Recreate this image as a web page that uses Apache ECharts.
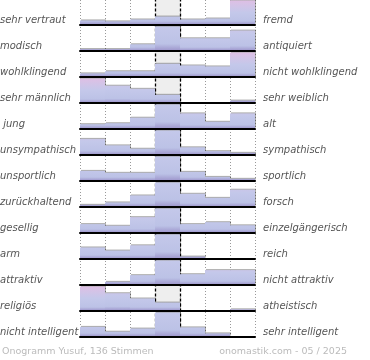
<!DOCTYPE html>
<html>
<head>
<meta charset="utf-8">
<script src="https://cdn.jsdelivr.net/npm/echarts@6/dist/echarts.min.js"></script>
<style>html,body{margin:0;padding:0;background:#fff;}#c{width:370px;height:360px;}</style>
</head>
<body>
<div id="c"></div>
<script>
const leftLabels = ['sehr vertraut','modisch','wohlklingend','sehr männlich',' jung','unsympathisch','unsportlich','zurückhaltend','gesellig','arm','attraktiv','religiös','nicht intelligent'];
const rightLabels = ['fremd','antiquiert','nicht wohlklingend','sehr weiblich','alt','sympathisch','sportlich','forsch','einzelgängerisch','reich','nicht attraktiv','atheistisch','sehr intelligent'];
const scaleSteps = ['1','2','3','4','5','6','7'];
// relative bar heights per row (percent of the row's highest bar)
const row01 = [17, 13, 21, 33, 21, 25, 100];
const row02 = [6, 6, 26, 100, 51, 51, 83];
const row03 = [13, 22, 22, 53, 46, 42, 100];
const row04 = [100, 70, 57, 32, 0, 0, 8];
const row05 = [18, 22, 45, 100, 63, 28, 63];
const row06 = [65, 38, 24, 100, 30, 14, 7];
const row07 = [40, 32, 32, 100, 36, 15, 7];
const row08 = [7, 17, 46, 100, 53, 36, 70];
const row09 = [35, 28, 64, 100, 35, 43, 30];
const row10 = [46, 33, 55, 100, 8, 0, 0];
const row11 = [0, 11, 39, 100, 43, 60, 60];
const row12 = [100, 72, 50, 33, 0, 0, 5];
const row13 = [40, 20, 33, 100, 38, 13, 0];
const footerLeft = 'Onogramm Yusuf, 136 Stimmen';
const footerRight = 'onomastik.com - 05 / 2025';

const rows = [row01,row02,row03,row04,row05,row06,row07,row08,row09,row10,row11,row12,row13];

// row-relative gradient stops
const gStops = [
  [0, [222,190,228]],
  [0.12, [216,194,230]],
  [0.5, [196,200,234]],
  [0.86, [188,194,230]],
  [1, [158,150,204]]
];
function sample(g){
  for(let i=1;i<gStops.length;i++){
    if(g<=gStops[i][0]){
      const a=gStops[i-1], b=gStops[i];
      const t=(g-a[0])/(b[0]-a[0]);
      const c=a[1].map((v,k)=>Math.round(v+(b[1][k]-v)*t));
      return 'rgb('+c.join(',')+')';
    }
  }
  return 'rgb('+gStops[gStops.length-1][1].join(',')+')';
}
function barColor(v, idx){
  if(v<=0) return 'rgba(0,0,0,0)';
  const f=v/100;
  let start=1-f;
  if(idx===3) start=Math.max(start,0.5); // neutral column shows no pink top
  else if(f<0.9) start=Math.max(start,0.4); // only full bars carry the pink top
  const span=1-start;
  const stops=[{offset:0,color:sample(start)}];
  gStops.forEach(s=>{ if(s[0]>start+1e-6){
    const o=Math.min(1,Math.max(0,(s[0]-start)/span));
    stops.push({offset:o,color:sample(s[0])});
  }});
  return new echarts.graphic.LinearGradient(0,0,0,1,stops);
}

const ROW=26, TOP=0.5, H=24, LEFT=80, W=175;
const grid=[], xAxis=[], yAxis=[], series=[], graphic=[];
grid.push({left:LEFT, width:W, top:0, height:TOP+ROW*12+H});
xAxis.push({type:'value', gridIndex:0, min:0, max:7, interval:1, axisLine:{show:false}, axisTick:{show:false}, axisLabel:{show:false},
  splitLine:{show:true, lineStyle:{color:'#999', type:[1,2], width:1}}});
yAxis.push({type:'value', gridIndex:0, min:0, max:1, show:false, splitLine:{show:false}});
series.push({type:'line', xAxisIndex:0, yAxisIndex:0, data:[], silent:true, z:0,
  markArea:{silent:true, itemStyle:{color:'#eeeeee'}, data:[[{xAxis:3},{xAxis:4}]]}});
series.push({type:'line', xAxisIndex:0, yAxisIndex:0, data:[], silent:true, z:20,
  markLine:{silent:true, symbol:'none', label:{show:false}, lineStyle:{color:'#000', type:[3,2], width:1.3}, data:[{xAxis:3},{xAxis:4}]}});

rows.forEach((vals,i)=>{
  const gi=i+1;
  grid.push({left:LEFT, width:W, top:TOP+ROW*i, height:H});
  xAxis.push({type:'category', gridIndex:gi, data:scaleSteps, boundaryGap:true,
    axisLine:{show:true, lineStyle:{color:'#000', width:2}}, axisTick:{show:false}, axisLabel:{show:false}, splitLine:{show:false}, z:15});
  yAxis.push({type:'value', gridIndex:gi, min:0, max:100, show:false, splitLine:{show:false}});
  series.push({type:'bar', xAxisIndex:gi, yAxisIndex:gi, barWidth:'100%', barGap:'0%', z:5, silent:true,
    data:vals.map((v,k)=>({value:v, itemStyle:{color:barColor(v,k)}})),
    itemStyle:{shadowColor:'rgba(0,0,0,0.32)', shadowOffsetX:1, shadowOffsetY:-1, shadowBlur:0}});
  graphic.push({type:'text', left:0, top:TOP+ROW*i+14.5, style:{text:leftLabels[i], fill:'#555', font:'italic 10px "DejaVu Sans"'}});
  graphic.push({type:'text', left:263, top:TOP+ROW*i+14.5, style:{text:rightLabels[i], fill:'#555', font:'italic 10px "DejaVu Sans"'}});
});
graphic.push({type:'text', left:2, top:347, style:{text:footerLeft, fill:'#bbb', font:'9.5px "DejaVu Sans"'}});
graphic.push({type:'text', right:23, top:347, style:{text:footerRight, fill:'#bbb', font:'9.5px "DejaVu Sans"'}});

const chart=echarts.init(document.getElementById('c'),null,{renderer:'canvas'});
chart.setOption({animation:false, grid, xAxis, yAxis, series, graphic});
</script>
</body>
</html>
